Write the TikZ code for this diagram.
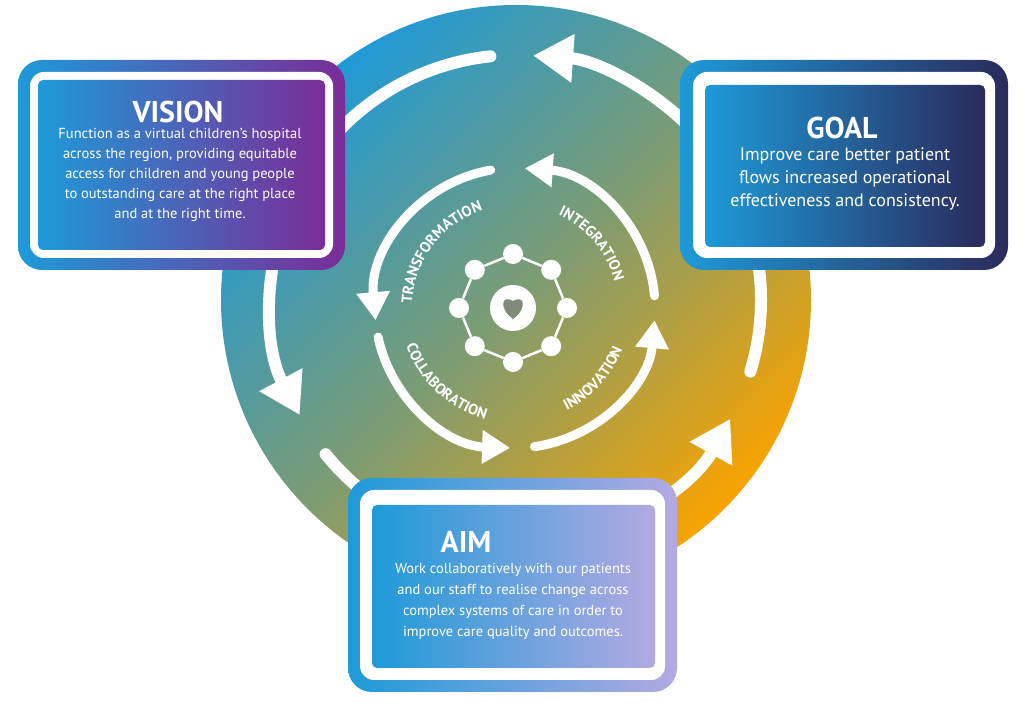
\documentclass[tikz,border=0pt]{standalone}
\usepackage{fontspec}
\setmainfont{PT Sans}
\usetikzlibrary{arrows.meta,decorations.text}
\definecolor{cblue}{HTML}{1E9AD8}
\definecolor{cpurple}{HTML}{7B2C98}
\definecolor{cnavy}{HTML}{2B2A5C}
\definecolor{clav}{HTML}{B3A9E2}
\definecolor{corange}{HTML}{F9A300}
\definecolor{cmid}{HTML}{7E9C72}
\tikzset{
	ring/.style={white,line width=12pt,line cap=round},
	inring/.style={white,line width=9pt,line cap=round},
	bigtip/.style={-{Triangle[width=46pt,length=40pt]}},
	smalltip/.style={-{Triangle[width=32pt,length=28pt]}},
	whitebox/.style={fill=white,rounded corners=14pt},
	innerbox/.style={rounded corners=5pt},
	title/.style={white,font=\fontsize{30}{32}\selectfont\bfseries},
	body/.style={white,align=center,font=\fontsize{14.5}{20}\selectfont},
	ringword/.style={decorate,decoration={text along path,text align=center,
		text={|\fontsize{15}{15}\selectfont\bfseries\color{white}|#1}}},
	dot/.style={circle,fill=white,minimum size=20pt,inner sep=0pt}
}
\begin{document}
\begin{tikzpicture}[x=1pt,y=1pt]
	\useasboundingbox (0,0) rectangle (1024,708);
	% big disc
	\shade[left color=cblue,right color=corange,middle color=cmid,shading angle=45]
		(516,408) circle[radius=295];
	% outer cycle
	\draw[ring,bigtip] ([shift={(-17:245)}]516,408) arc[start angle=-17,end angle=86,radius=245];
	\draw[ring,bigtip] ([shift={(96:245)}]516,408) arc[start angle=96,end angle=208,radius=245];
	\draw[ring,bigtip] ([shift={(219:245)}]516,408) arc[start angle=219,end angle=331,radius=245];
	% inner cycle
	\foreach \s/\e in {5/86,100/185,192/268,278/355}
		\draw[inring,smalltip] ([shift={(\s:140)}]515,400) arc[start angle=\s,end angle=\e,radius=140];
	\path[ringword={TRANSFORMATION}] ([shift={(192:103)}]515,400) arc[start angle=192,end angle=94,radius=103];
	\path[ringword={INTEGRATION}] ([shift={(80:103)}]515,400) arc[start angle=80,end angle=0,radius=103];
	\path[ringword={COLLABORATION}] ([shift={(182:115)}]515,400) arc[start angle=182,end angle=272,radius=115];
	\path[ringword={INNOVATION}] ([shift={(280:115)}]515,400) arc[start angle=280,end angle=356,radius=115];
	% icon
	\foreach \a [count=\i] in {90,45,...,-225}
		\node[dot] (n\i) at ([shift={(\a:54)}]513,400) {};
	\foreach \i/\j in {1/2,2/3,3/4,4/5,5/6,6/7,7/8,8/1}
		\draw[white,line width=2.5pt] (n\i) -- (n\j);
	\node[circle,fill=white,minimum size=46pt,inner sep=0pt] (hub) at (513,400) {};
	\fill[cmid!85!cpurple] (513,389) .. controls (498,400) and (502,414) .. (513,407)
		.. controls (524,414) and (528,400) .. (513,389);
	% VISION
	\shade[rounded corners=24pt,left color=cblue,right color=cpurple] (18,438) rectangle (345,648);
	\fill[whitebox] (30,450) rectangle (333,636);
	\shade[innerbox,left color=cblue,right color=cpurple] (38,458) rectangle (325,628);
	\node[title] (vtitle) at (178,596) {VISION};
	\node[body,below=0pt] (vtext) at (180,583) {Function as a virtual children’s hospital\\across the region, providing equitable\\access for children and young people\\to outstanding care at the right place\\and at the right time.};
	% GOAL
	\shade[rounded corners=24pt,left color=cblue,right color=cnavy] (680,438) rectangle (1008,648);
	\fill[whitebox] (693,450) rectangle (995,636);
	\shade[innerbox,left color=cblue,right color=cnavy] (705,461) rectangle (985,623);
	\node[title] (gtitle) at (842,580) {GOAL};
	\node[body,font=\fontsize{18}{23}\selectfont,below=0pt] (gtext) at (845,564) {Improve care better patient\\flows increased operational\\effectiveness and consistency.};
	% AIM
	\shade[rounded corners=24pt,left color=cblue,right color=clav] (348,16) rectangle (677,230);
	\fill[whitebox] (360,28) rectangle (665,218);
	\shade[innerbox,left color=cblue,right color=clav] (372,40) rectangle (655,203);
	\node[title] (atitle) at (466,166) {AIM};
	\node[body,font=\fontsize{14.5}{21}\selectfont,below=0pt] (atext) at (513,148) {Work collaboratively with our patients\\and our staff to realise change across\\complex systems of care in order to\\improve care quality and outcomes.};
\end{tikzpicture}
\end{document}
